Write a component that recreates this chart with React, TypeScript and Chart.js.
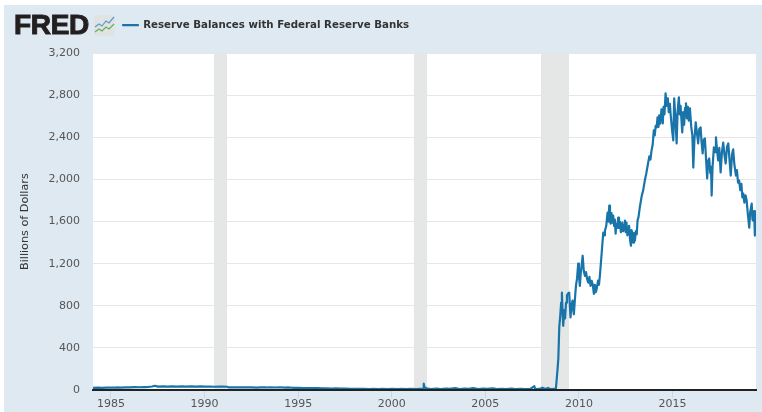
import React, { useEffect, useRef } from "react";
import { Chart, registerables } from "chart.js";

Chart.register(...registerables);

const seriesName = "Reserve Balances with Federal Reserve Banks";
const axisTitle = "Billions of Dollars";

const recessionStarts = [1990.5, 2001.17, 2007.97];
const recessionEnds = [1991.2, 2001.9, 2009.47];

const earlyYears = [
  1984.04, 1984.3, 1984.5, 1984.8, 1985.0, 1985.3, 1985.5, 1985.8, 1986.0, 1986.3, 1986.5, 1986.8,
  1987.0, 1987.2, 1987.35, 1987.5, 1987.8, 1988.0, 1988.3, 1988.5, 1988.8, 1989.0, 1989.3, 1989.5, 1989.8,
  1990.0, 1990.3, 1990.5, 1990.8, 1991.0, 1991.2, 1991.3, 1991.5, 1991.8, 1992.0, 1992.3, 1992.5, 1992.8,
  1993.0, 1993.3, 1993.5, 1993.8, 1994.0, 1994.3, 1994.5, 1994.8, 1995.0, 1995.3, 1995.5, 1995.8,
  1996.0, 1996.3, 1996.5, 1996.8, 1997.0, 1997.3, 1997.5, 1997.8, 1998.0, 1998.3, 1998.5, 1998.8,
  1999.0, 1999.3, 1999.5, 1999.8, 2000.0, 2000.3, 2000.5, 2000.8, 2001.0, 2001.3, 2001.5, 2001.68,
  2001.71, 2001.75, 2001.9, 2002.1, 2002.4, 2002.6, 2002.9, 2003.1, 2003.4, 2003.6, 2003.9, 2004.1,
  2004.35, 2004.6, 2004.9, 2005.1, 2005.4, 2005.6, 2005.9, 2006.1, 2006.4, 2006.6, 2006.9, 2007.1,
  2007.4, 2007.62, 2007.66, 2007.9, 2008.05, 2008.2, 2008.35, 2008.5, 2008.7,
];
const earlyValues = [
  20, 22, 21, 23, 22, 24, 23, 25, 25, 27, 26, 28,
  30, 33, 40, 32, 34, 33, 35, 32, 35, 33, 35, 32, 34,
  32, 33, 31, 33, 32, 31, 24, 25, 24, 25, 24, 25, 23,
  25, 24, 26, 24, 26, 23, 24, 21, 21, 18, 19, 17,
  18, 15, 16, 14, 15, 13, 14, 12, 12, 10, 12, 9,
  11, 9, 10, 8, 11, 9, 10, 8, 12, 9, 12, 10,
  60, 26, 13, 9, 14, 9, 13, 10, 18, 9, 13, 11,
  19, 9, 14, 10, 16, 9, 12, 9, 13, 8, 12, 9,
  11, 36, 9, 10, 22, 9, 20, 8, 12,
];

const riseYears = [
  2008.77, 2008.85, 2008.9, 2008.95, 2009.0, 2009.05, 2009.09, 2009.13, 2009.16, 2009.22, 2009.26, 2009.31,
  2009.36, 2009.41, 2009.48, 2009.55, 2009.6, 2009.66, 2009.7, 2009.73, 2009.78, 2009.84, 2009.9, 2009.96,
  2010.0, 2010.05, 2010.1, 2010.15, 2010.2, 2010.26, 2010.32, 2010.38, 2010.44, 2010.5, 2010.56, 2010.62,
  2010.68, 2010.74, 2010.8, 2010.85, 2010.9, 2010.95, 2011.02, 2011.07, 2011.12,
];
const riseValues = [
  12, 180, 300, 600, 700, 830, 925, 720, 610, 760, 680, 830,
  900, 915, 925, 690, 800, 850, 760, 720, 850, 990, 1060, 1200,
  1090, 990, 1120, 1190, 1276, 1130, 1085, 1120, 1050, 1020, 1075, 990,
  1038, 1000, 914, 1000, 930, 962, 1040, 1000, 1086,
];

const plateauYears = [
  2011.21, 2011.3, 2011.35, 2011.39, 2011.46, 2011.53, 2011.58, 2011.62, 2011.66, 2011.69, 2011.74, 2011.78, 2011.83,
  2011.88, 2011.92, 2011.96, 2012.0, 2012.05, 2012.1, 2012.14, 2012.19, 2012.24, 2012.28, 2012.32, 2012.37, 2012.42,
  2012.46, 2012.5, 2012.54, 2012.59, 2012.63, 2012.68, 2012.73, 2012.78, 2012.81, 2012.85, 2012.9, 2012.94, 2012.99,
  2013.04, 2013.09, 2013.13, 2013.18, 2013.25,
];
const plateauValues = [
  1290, 1495, 1470, 1514, 1560, 1686, 1600, 1752, 1640, 1580, 1680, 1590, 1657,
  1560, 1620, 1486, 1580, 1540, 1638, 1540, 1600, 1500, 1514, 1590, 1510, 1570,
  1610, 1500, 1590, 1470, 1495, 1560, 1430, 1371, 1520, 1495, 1400, 1490, 1419,
  1510, 1480, 1610, 1640, 1733,
];

const peakYears = [
  2013.35, 2013.43, 2013.52, 2013.6, 2013.68, 2013.76, 2013.82, 2013.88, 2013.94, 2014.0, 2014.05, 2014.1, 2014.15,
  2014.2, 2014.25, 2014.29, 2014.34, 2014.41, 2014.48, 2014.52, 2014.57, 2014.63, 2014.68, 2014.75, 2014.8, 2014.86,
  2014.9, 2014.97, 2015.04, 2015.09, 2015.14, 2015.18, 2015.22, 2015.27, 2015.34, 2015.38, 2015.43, 2015.48, 2015.52,
  2015.57, 2015.62, 2015.67, 2015.72, 2015.77, 2015.82, 2015.87, 2015.93, 2016.0, 2016.06, 2016.11, 2016.17, 2016.24,
];
const peakValues = [
  1840, 1895, 1990, 2060, 2140, 2220, 2190, 2276, 2330, 2467, 2420, 2510, 2495,
  2590, 2500, 2610, 2530, 2667, 2533, 2690, 2620, 2820, 2700, 2771, 2640, 2720,
  2619, 2480, 2371, 2771, 2620, 2480, 2343, 2640, 2781, 2620, 2700, 2560, 2448,
  2640, 2520, 2680, 2724, 2580, 2690, 2560, 2676, 2500, 2420, 2114, 2380, 2543,
];

const declineYears = [
  2016.3, 2016.37, 2016.43, 2016.5, 2016.55, 2016.61, 2016.67, 2016.73, 2016.79, 2016.85, 2016.91, 2016.96, 2017.02,
  2017.06, 2017.09, 2017.14, 2017.21, 2017.27, 2017.32, 2017.38, 2017.44, 2017.5, 2017.57, 2017.64, 2017.71, 2017.77,
  2017.84, 2017.91, 2017.98, 2018.04, 2018.11, 2018.18, 2018.24, 2018.3, 2018.39, 2018.44, 2018.5, 2018.56, 2018.62,
  2018.68, 2018.73, 2018.78, 2018.84, 2018.9, 2018.96, 2019.02, 2019.1, 2019.15, 2019.23, 2019.27, 2019.31, 2019.36, 2019.4,
];
const declineValues = [
  2450, 2343, 2480, 2495, 2360, 2248, 2380, 2390, 2200, 2010, 2180, 2200, 2060,
  2120, 1848, 2120, 2305, 2260, 2400, 2280, 2181, 2300, 2067, 2260, 2352, 2240,
  2152, 2310, 2343, 2200, 2038, 2240, 2286, 2150, 2038, 2090, 1970, 1990, 1900,
  1960, 1830, 1867, 1780, 1850, 1800, 1680, 1543, 1690, 1771, 1620, 1610, 1700, 1467,
];

const yearTicks = 5;
const valueTicks = 400;

const allYears = [...earlyYears, ...riseYears, ...plateauYears, ...peakYears, ...declineYears];
const allValues = [...earlyValues, ...riseValues, ...plateauValues, ...peakValues, ...declineValues];

export default function App() {
  const ref = useRef<HTMLCanvasElement | null>(null);

  useEffect(() => {
    document.body.style.margin = "0";
    document.body.style.background = "#ffffff";
    const placeLegend = {
      id: "placeLegend",
      afterLayout(chart: any) {
        if (chart.legend) {
          const w = chart.legend.width;
          chart.legend.left = 107;
          chart.legend.right = 107 + w;
          chart.legend.top -= 13;
          chart.legend.bottom -= 13;
        }
      },
      beforeDraw(chart: any) {
        const a = chart.chartArea;
        chart.ctx.save();
        chart.ctx.fillStyle = "#ffffff";
        chart.ctx.fillRect(a.left, a.top, a.right - a.left, a.bottom - a.top);
        chart.ctx.restore();
      },
    };
    const chart = new Chart(ref.current as HTMLCanvasElement, {
      type: "line",
      data: {
        datasets: [
          {
            label: seriesName,
            data: allYears.map((x, i) => ({ x, y: allValues[i] })),
            borderColor: "#1874a9",
            backgroundColor: "#1874a9",
            borderWidth: 2.2,
            borderJoinStyle: "round",
            pointRadius: 0,
            tension: 0,
            fill: false,
            order: 1,
          },
          ...recessionStarts.map((s, i) => ({
            label: "Recession",
            data: [
              { x: s, y: 3200 },
              { x: recessionEnds[i], y: 3200 },
            ],
            borderWidth: 0,
            borderColor: "#e5e7e6",
            backgroundColor: "#e5e7e6",
            pointRadius: 0,
            fill: "origin",
            order: 2,
          })),
        ],
      },
      options: {
        animation: false,
        responsive: false,
        layout: { padding: { left: 4, top: 17, right: 6, bottom: 0 } },
        plugins: {
          legend: {
            display: true,
            position: "top",
            align: "start",
            labels: {
              filter: (item: any) => item.text !== "Recession",
              boxWidth: 15,
              boxHeight: 0.1,
              padding: 16,
              color: "#333333",
              font: { family: "'DejaVu Sans'", size: 10.25, weight: "bold" },
            },
          },
          tooltip: { enabled: false },
        },
        scales: {
          x: {
            type: "linear",
            min: 1984.04,
            max: 2019.46,
            afterFit: (s: any) => {
              s.height = 22;
            },
            border: { color: "#222222", width: 2, z: 1 },
            grid: { drawOnChartArea: false, tickColor: "#ccd6eb", tickLength: 8, tickWidth: 1 },
            ticks: {
              stepSize: yearTicks,
              includeBounds: false,
              maxRotation: 0,
              padding: 0,
              color: "#555555",
              font: { family: "'DejaVu Sans'", size: 11 },
              callback: (v: any) => String(v),
            },
          },
          y: {
            min: 0,
            max: 3200,
            afterFit: (s: any) => {
              s.width = 89;
            },
            title: {
              display: true,
              text: axisTitle,
              color: "#333333",
              padding: { top: 14, bottom: 0 },
              font: { family: "'DejaVu Sans'", size: 11.2 },
            },
            border: { display: false },
            grid: { color: "#e6e6e6", lineWidth: 1, drawTicks: false },
            ticks: {
              stepSize: valueTicks,
              padding: 13,
              color: "#555555",
              font: { family: "'DejaVu Sans'", size: 11 },
              callback: (v: any) => Number(v).toLocaleString("en-US"),
            },
          },
        },
      },
      plugins: [placeLegend],
    } as any);
    return () => chart.destroy();
  }, []);

  return (
    <div style={{ position: "absolute", left: 0, top: 0, width: 762, height: 412, overflow: "hidden", background: "#fff" }}>
      <div style={{ position: "absolute", left: 4, top: 5, width: 758, height: 407, background: "#dfe9f1" }} />
      <canvas ref={ref} width={762} height={412} style={{ position: "absolute", left: 0, top: 0, width: 762, height: 412 }} />
      <div
        style={{
          position: "absolute",
          left: 14,
          top: 9,
          fontFamily: "'Liberation Sans', Arial, sans-serif",
          fontWeight: 700,
          fontSize: 28,
          lineHeight: "32px",
          color: "#231f20",
          WebkitTextStroke: "1px #231f20",
          letterSpacing: "-0.3px",
        }}
      >
        FRED
      </div>
      <svg style={{ position: "absolute", left: 94, top: 15 }} width={21} height={21} viewBox="0 0 21 21">
        <rect x={0} y={0} width={21} height={21} rx={2} fill="#e0e3e4" />
        <polyline points="1,12 5,9 8,11 12,6 15,8 20,2" fill="none" stroke="#5b9cc9" strokeWidth={1.2} />
        <polyline points="1,17 5,14 8,16 12,12 15,14 20,9" fill="none" stroke="#6aae55" strokeWidth={1.2} />
      </svg>
    </div>
  );
}
